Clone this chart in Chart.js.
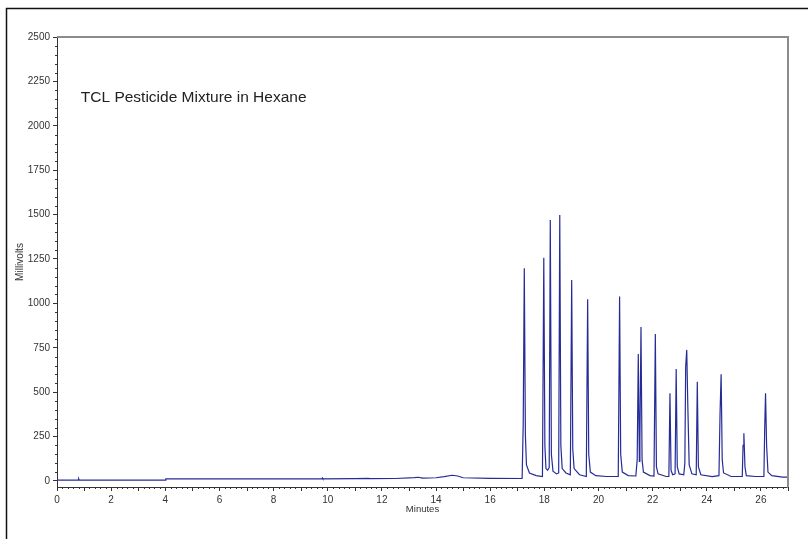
<!DOCTYPE html>
<html>
<head>
<meta charset="utf-8">
<script src="https://cdn.jsdelivr.net/npm/chart.js@4"></script>
<style>
  html, body { margin: 0; padding: 0; background: #fff; }
  #wrap { width: 808px; height: 539px; position: relative; }
</style>
</head>
<body>
<div id="wrap"><canvas id="chromChart" width="808" height="539"></canvas></div>
<script>
// chromatogram trace (minutes / millivolts)
const minutes = [
  0.00, 0.05, 0.78, 0.80, 0.82, 4.00, 4.02, 9.78, 9.80, 9.82, 11.00, 11.50, 11.55, 12.50,
  13.20, 13.35, 13.50, 14.00, 14.30, 14.60, 14.80, 15.00, 16.00, 17.18,
  17.22, 17.26, 17.30, 17.34, 17.45, 17.70, 17.93,
  17.98, 18.02, 18.06, 18.12, 18.18,
  18.22, 18.26, 18.32, 18.45, 18.53,
  18.57, 18.61, 18.66, 18.80, 18.96,
  19.01, 19.05, 19.10, 19.30, 19.55,
  19.60, 19.64, 19.70, 19.90, 20.30, 20.73,
  20.78, 20.82, 20.88, 21.10, 21.38, 21.43,
  21.47, 21.51, 21.53, 21.57, 21.61, 21.66, 21.90, 22.05,
  22.10, 22.14, 22.20, 22.50, 22.60,
  22.64, 22.68, 22.74, 22.83,
  22.87, 22.91, 22.98, 23.15, 23.19,
  23.22, 23.26, 23.30, 23.35, 23.45, 23.61,
  23.65, 23.69, 23.78, 24.20, 24.45,
  24.49, 24.53, 24.57, 24.62, 24.90, 25.31,
  25.34, 25.37, 25.41, 25.46, 25.80, 26.11,
  26.14, 26.17, 26.21, 26.26, 26.40, 26.80, 27.00
];
const millivolts = [
  8, 5, 5, 12, 5, 5, 12, 12, 17, 12, 13, 15, 13, 14,
  19, 21, 16, 18, 24, 32, 28, 18, 15, 14,
  320, 1198, 260, 90, 45, 30, 25,
  1257, 200, 70, 60, 75,
  1470, 150, 55, 40, 45,
  1498, 200, 70, 45, 35,
  1132, 180, 70, 35, 25,
  1023, 150, 50, 30, 25, 25,
  1038, 150, 50, 30, 28, 120,
  715, 110, 240, 867, 120, 50, 30, 28,
  828, 80, 40, 25, 25,
  494, 60, 35, 40,
  631, 80, 40, 35, 100,
  640, 738, 420, 90, 40, 35,
  559, 80, 35, 25, 30,
  380, 601, 120, 45, 25, 25,
  200, 268, 80, 30, 25, 25,
  300, 494, 200, 50, 30, 22, 22
];
// axes
const xTicks = [0, 2, 4, 6, 8, 10, 12, 14, 16, 18, 20, 22, 24, 26];
const yTicks = [0, 250, 500, 750, 1000, 1250, 1500, 1750, 2000, 2250, 2500];
const chartTitle = "TCL Pesticide Mixture in Hexane";

const tickColor = "#333";
const traceColor = "rgb(38, 44, 150)";

// frames, minor ticks and the caption inside the plot
const extras = {
  id: "extras",
  beforeDraw(chart) {
    const c = chart.ctx;
    c.save();
    c.strokeStyle = "#111";
    c.lineWidth = 1.5;
    c.strokeRect(6.5, 8.5, 1000, 1000);
    c.restore();
  },
  afterDraw(chart) {
    const c = chart.ctx;
    const a = chart.chartArea;
    const xs = chart.scales.x;
    const ys = chart.scales.y;
    c.save();
    // top / right of plot box
    c.strokeStyle = "#8c8c8c";
    c.lineWidth = 2;
    c.beginPath();
    c.moveTo(a.left, a.top);
    c.lineTo(a.right, a.top);
    c.lineTo(a.right, a.bottom + 1);
    c.stroke();
    // minor ticks
    c.strokeStyle = tickColor;
    c.lineWidth = 1;
    c.beginPath();
    for (let i = 0; i <= 135; i++) {
      if (i % 10 === 0) continue;
      const px = Math.round(xs.getPixelForValue(i / 5)) + 0.5;
      const len = i % 5 === 0 ? 4 : 2;
      c.moveTo(px, a.bottom);
      c.lineTo(px, a.bottom + len);
    }
    for (let v = 0; v <= 2500; v += 50) {
      if (v % 250 === 0) continue;
      const py = Math.round(ys.getPixelForValue(v)) + 0.5;
      c.moveTo(a.left, py);
      c.lineTo(a.left - 2, py);
    }
    c.stroke();
    // caption
    c.fillStyle = "#222";
    c.font = "15.5px 'Liberation Sans', Arial, sans-serif";
    c.textAlign = "left";
    c.textBaseline = "alphabetic";
    c.fillText(chartTitle, xs.getPixelForValue(0.88), ys.getPixelForValue(2134));
    c.restore();
  }
};

document.addEventListener("DOMContentLoaded", () => {
  const ctx = document.getElementById("chromChart").getContext("2d");

  new Chart(ctx, {
    type: "line",
    data: {
      datasets: [
        {
          label: "",
          data: minutes.map((m, i) => ({ x: m, y: millivolts[i] })),
          borderColor: traceColor,
          borderWidth: 1.2,
          fill: false,
          tension: 0,
          pointRadius: 0,
        },
      ],
    },
    options: {
      responsive: false,
      animation: false,
      layout: {
        padding: { left: 0, top: 37, right: 20, bottom: 0 },
      },
      scales: {
        x: {
          type: "linear",
          min: 0,
          max: 27,
          afterFit: (s) => { s.height = 52; },
          afterBuildTicks: (s) => { s.ticks = xTicks.map((v) => ({ value: v })); },
          grid: {
            drawOnChartArea: false,
            tickLength: 4,
            color: tickColor,
          },
          border: { color: tickColor, width: 1 },
          ticks: {
            color: tickColor,
            padding: 3,
            maxRotation: 0,
            callback: (v) => String(v),
            font: { family: "'Liberation Sans', Arial, sans-serif", size: 10 },
          },
          title: {
            display: true,
            text: "Minutes",
            color: tickColor,
            padding: { top: 0, bottom: 24 },
            font: { family: "'Liberation Sans', Arial, sans-serif", size: 9.5 },
          },
        },
        y: {
          min: -34,
          max: 2500,
          afterFit: (s) => { s.width = 57; },
          afterBuildTicks: (s) => { s.ticks = yTicks.map((v) => ({ value: v })); },
          grid: {
            drawOnChartArea: false,
            tickLength: 4,
            color: tickColor,
          },
          border: { color: tickColor, width: 1 },
          ticks: {
            color: tickColor,
            padding: 3,
            callback: (v) => String(v),
            font: { family: "'Liberation Sans', Arial, sans-serif", size: 10 },
          },
          title: {
            display: true,
            text: "Millivolts",
            color: tickColor,
            padding: { top: 14, bottom: 0 },
            font: { family: "'Liberation Sans', Arial, sans-serif", size: 10 },
          },
        },
      },
      plugins: {
        legend: { display: false },
        tooltip: { enabled: false },
      },
    },
    plugins: [extras],
  });
});
</script>
</body>
</html>
